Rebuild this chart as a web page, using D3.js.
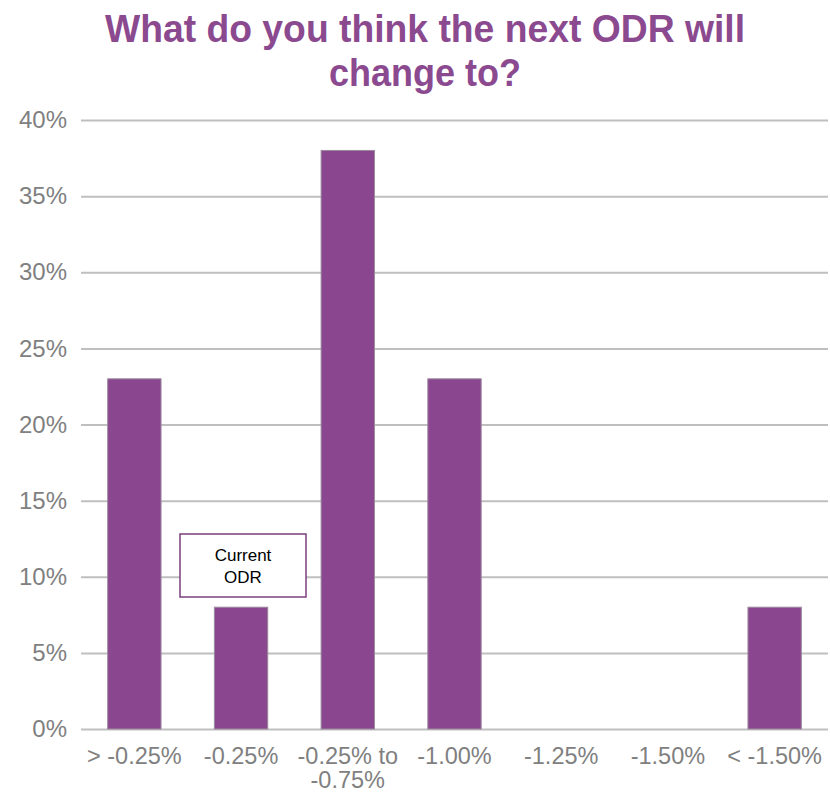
<!DOCTYPE html>
<html><head><meta charset="utf-8">
<script src="https://cdn.jsdelivr.net/npm/d3@7"></script>
<style>body{margin:0;background:#fff}svg{display:block}</style>
</head><body>
<script>
const categories = ["> -0.25%", "-0.25%", "-0.25% to|-0.75%", "-1.00%", "-1.25%", "-1.50%", "< -1.50%"];
const values = [0.23, 0.08, 0.38, 0.23, 0, 0, 0.08];
const yTicks = [0, 0.05, 0.10, 0.15, 0.20, 0.25, 0.30, 0.35, 0.40];
const titleLines = ["What do you think the next ODR will", "change to?"];
const annotationLines = ["Current", "ODR"];

(function() {
const W = 830, H = 793;
const svg = d3.select("body").append("svg").attr("width", W).attr("height", H);
const mLeft = 81, mRight = 828, mTop = 120, mBottom = 729;
const x = d3.scaleBand().domain(categories).range([mLeft, mRight]).paddingInner(0.5).paddingOuter(0.25);
const y = d3.scaleLinear().domain([0, 0.40]).range([mBottom, mTop]);
const FONT = "Liberation Sans, Arial, sans-serif";

// title
const titleWidths = [640, 192];
svg.append("g").selectAll("text").data(titleLines).join("text")
  .attr("x", 425).attr("y", (d, i) => 42 + i * 44)
  .attr("text-anchor", "middle")
  .attr("font-family", FONT)
  .attr("font-weight", "bold").attr("font-size", 39)
  .attr("textLength", (d, i) => titleWidths[i]).attr("lengthAdjust", "spacingAndGlyphs")
  .attr("fill", "#8B4A8F").text(d => d);

// gridlines
const yAxis = d3.axisLeft(y).tickValues(yTicks).tickFormat(d3.format(".0%")).tickSize(-(mRight - mLeft)).tickPadding(14);
const ga = svg.append("g").attr("transform", `translate(${mLeft},0)`).call(yAxis);
ga.select(".domain").remove();
ga.selectAll(".tick line").attr("stroke", "#bfbfbf").attr("stroke-width", 2);
ga.selectAll(".tick text").attr("fill", "#808080").attr("font-size", 24)
  .attr("font-family", FONT);

// bars
svg.append("g").selectAll("rect").data(values.map((v, i) => ({c: categories[i], v})))
  .join("rect")
  .attr("x", d => x(d.c)).attr("width", x.bandwidth())
  .attr("y", d => y(d.v)).attr("height", d => y(0) - y(d.v))
  .attr("fill", "#8B4690").attr("stroke", "#9a8a9c").attr("stroke-width", 1)
  .attr("display", d => d.v > 0 ? null : "none");

// x labels (multi-line labels drawn as separate text lines)
const xg = svg.append("g");
categories.forEach(c => {
  c.split("|").forEach((p, i) => {
    xg.append("text")
      .attr("x", x(c) + x.bandwidth() / 2).attr("y", 764 + i * 24)
      .attr("text-anchor", "middle").attr("fill", "#808080").attr("font-size", 23.5)
      .attr("font-family", FONT).text(p);
  });
});

// annotation box
const ann = svg.append("g");
ann.append("rect").attr("x", 180).attr("y", 534).attr("width", 126).attr("height", 63)
  .attr("fill", "#fff").attr("stroke", "#7B3F7F").attr("stroke-width", 1.5);
ann.selectAll("text").data(annotationLines).join("text")
  .attr("x", 243).attr("y", (d, i) => 561 + i * 22)
  .attr("text-anchor", "middle").attr("font-size", 17).attr("fill", "#000")
  .attr("font-family", FONT).text(d => d);
})();
</script>
</body></html>
